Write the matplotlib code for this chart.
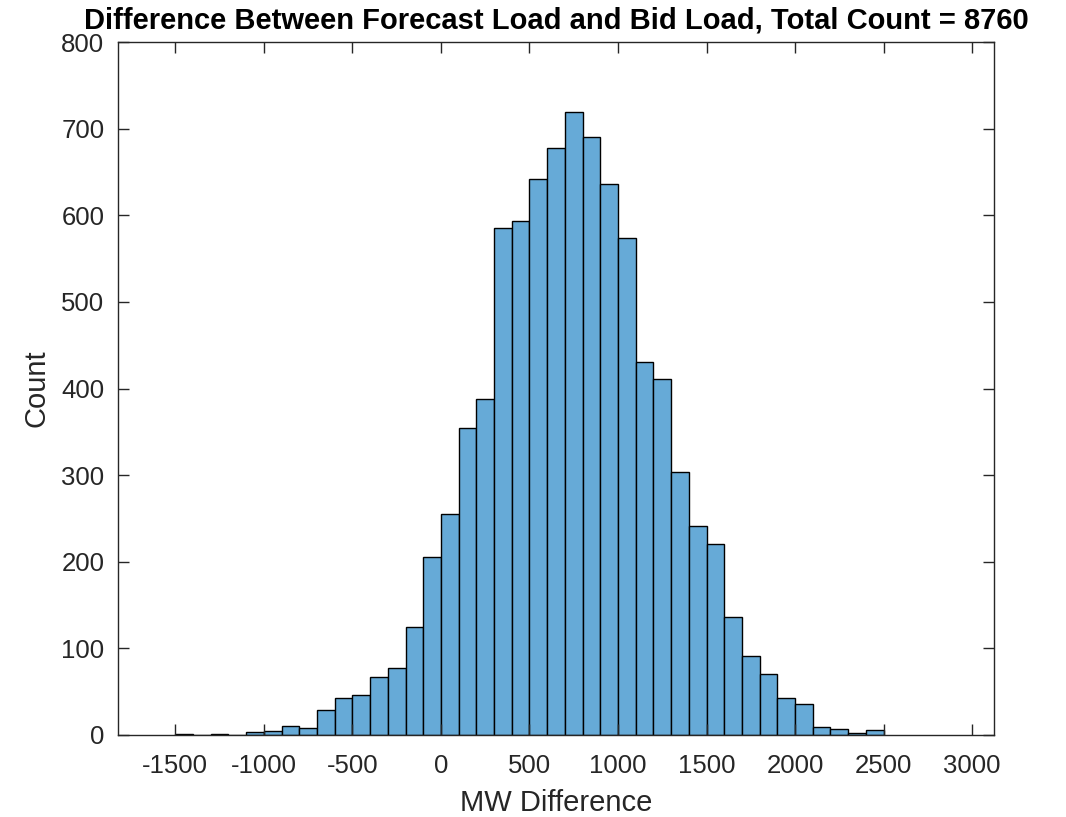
import numpy as np
import matplotlib
matplotlib.use("Agg")
import matplotlib.pyplot as plt

# histogram bins, 100 MW wide, left edges from -1500 to 2400
bin_edges = np.arange(-1500, 2600, 100)
counts = [1, 0, 1, 0, 3, 4, 10, 8, 29, 43, 46, 67, 77, 124, 205,
          255, 354, 388, 586, 593, 642, 678, 719, 691, 636, 574, 431, 411, 304, 241, 220,
          136, 91, 70, 43, 36, 9, 7, 2, 5]
x_ticks = [-1500, -1000, -500, 0, 500, 1000, 1500, 2000, 2500, 3000]
y_ticks = [0, 100, 200, 300, 400, 500, 600, 700, 800]
total = 8760

plt.rcParams["font.family"] = ["Liberation Sans", "DejaVu Sans"]
plt.rcParams["axes.unicode_minus"] = False

fig = plt.figure(figsize=(10.66, 8.17), dpi=100)
ax = fig.add_axes([0.111, 0.1007, 0.8215, 0.8475])

ax.bar(bin_edges[:-1], counts, width=100, align="edge",
       color=(0.4, 0.668, 0.845), edgecolor="black", linewidth=1.0)

ax.set_xlim(-1822, 3124)
ax.set_ylim(0, 800)
ax.set_xticks(x_ticks)
ax.set_yticks(y_ticks)

axis_color = "#262626"
for s in ax.spines.values():
    s.set_color(axis_color)
    s.set_linewidth(1.0)
ax.tick_params(direction="in", length=8, width=1.0, top=True, right=True,
               colors=axis_color, labelsize=18.5, labelcolor=axis_color)
ax.tick_params(axis="x", pad=14)
ax.tick_params(axis="y", pad=10)

ax.set_xlabel("MW Difference", fontsize=21, color=axis_color, labelpad=8)
ax.set_ylabel("Count", fontsize=21, color=axis_color, labelpad=8)
ax.set_title(f"Difference Between Forecast Load and Bid Load, Total Count = {total}",
             fontsize=21, fontweight="bold", pad=10)

fig.savefig("out.png", dpi=100)
